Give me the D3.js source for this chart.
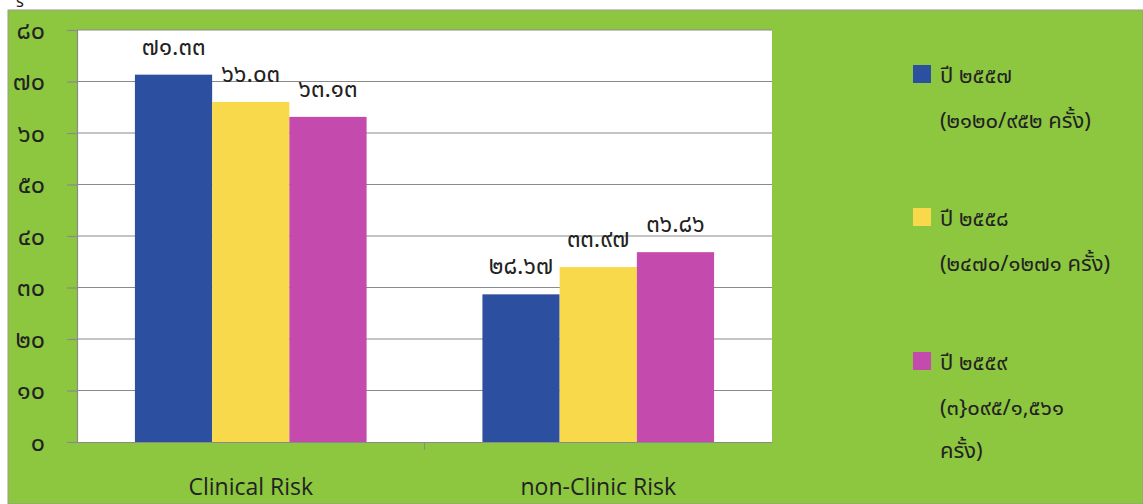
<!DOCTYPE html>
<html>
<head>
<meta charset="utf-8">
<script src="https://cdn.jsdelivr.net/npm/d3@7/dist/d3.min.js"></script>
<style>
  body { margin: 0; background: #fff; }
  text { font-family: "Noto Sans Thai", "Noto Sans", "DejaVu Sans", sans-serif; fill: #222; }
</style>
</head>
<body>
<script>
// chart data
var categories = ["Clinical Risk", "non-Clinic Risk"];
var seriesNames = ["y2557", "y2558", "y2559"];
var values2557 = [71.33, 28.67];
var values2558 = [66.03, 33.97];
var values2559 = [63.13, 36.86];
var yTicks = [0, 10, 20, 30, 40, 50, 60, 70, 80];
var legendLines = [
    ["ปี ๒๕๕๗", "(๒๑๒๐/๙๕๒ ครั้ง)"],
    ["ปี ๒๕๕๘", "(๒๔๗๐/๑๒๗๑ ครั้ง)"],
    ["ปี ๒๕๕๙", "(๓}๐๙๕/๑,๕๖๑", "ครั้ง)"]
];
var colors = ["#2d4f9f", "#f9d94c", "#c44aae"];

var W = 1143, H = 504;
var plot = {left: 77, right: 772, top: 30, bottom: 442};

// arabic -> thai digits
var thaiDigits = "๐๑๒๓๔๕๖๗๘๙";
function toThai(s) {
    return String(s).replace(/[0-9]/g, function(c){ return thaiDigits[+c]; });
}

var svg = d3.select("body").append("svg")
    .attr("width", W)
    .attr("height", H);

// green background
svg.append("rect")
    .attr("x", 8).attr("y", 10)
    .attr("width", W - 8).attr("height", H - 10)
    .attr("fill", "#8dc63f")
    .attr("stroke", "#9a9a8a").attr("stroke-width", 1);

// axis title, shown cut off at the top edge as in the source
svg.append("text")
    .attr("x", 16).attr("y", 7)
    .style("font-size", "16px")
    .text("ร้");

// plot area
svg.append("rect")
    .attr("x", plot.left).attr("y", plot.top)
    .attr("width", plot.right - plot.left)
    .attr("height", plot.bottom - plot.top)
    .attr("fill", "#fff");

var x0 = d3.scaleBand().domain(categories)
    .range([plot.left, plot.right]).paddingInner(0).paddingOuter(0);
var x1 = d3.scaleBand().domain(seriesNames)
    .range([0, x0.bandwidth()]).paddingInner(0).paddingOuter(0.75);
var y = d3.scaleLinear().domain([0, 80]).range([plot.bottom, plot.top]);

// gridlines
svg.append("g")
    .selectAll("line")
    .data(yTicks.filter(function(d){ return d > 0; }))
    .enter().append("line")
    .attr("x1", plot.left).attr("x2", plot.right)
    .attr("y1", function(d){ return y(d); })
    .attr("y2", function(d){ return y(d); })
    .attr("stroke", "#8a8a8a").attr("stroke-width", 1.2);

// y axis
var yAxis = svg.append("g")
    .attr("transform", "translate(" + plot.left + ",0)")
    .call(d3.axisLeft(y).tickValues(yTicks).tickSize(10).tickPadding(22)
        .tickFormat(function(d){ return toThai(d); }));
yAxis.select(".domain").attr("stroke", "#8a8a8a").attr("stroke-width", 1.2);
yAxis.selectAll(".tick line").attr("stroke", "#8a8a8a").attr("stroke-width", 1.2);
yAxis.selectAll(".tick text")
    .style("font-size", "25px").attr("fill", "#222")
    .style("font-family", "\"Noto Sans Thai\", \"Noto Sans\", sans-serif");

// bars
var series = [values2557, values2558, values2559];
var groups = svg.append("g")
    .selectAll("g")
    .data(categories)
    .enter().append("g")
    .attr("transform", function(d){ return "translate(" + x0(d) + ",0)"; });

groups.selectAll("rect")
    .data(function(d, i){
        return series.map(function(s, j){ return {key: seriesNames[j], value: s[i], idx: j}; });
    })
    .enter().append("rect")
    .attr("x", function(d){ return x1(d.key); })
    .attr("width", x1.bandwidth())
    .attr("y", function(d){ return y(d.value); })
    .attr("height", function(d){ return plot.bottom - y(d.value); })
    .attr("fill", function(d){ return colors[d.idx]; });

groups.selectAll("text.val")
    .data(function(d, i){
        return series.map(function(s, j){ return {key: seriesNames[j], value: s[i]}; });
    })
    .enter().append("text")
    .attr("class", "val")
    .attr("x", function(d){ return x1(d.key) + x1.bandwidth() / 2; })
    .attr("y", function(d){ return y(d.value) - 20; })
    .attr("text-anchor", "middle")
    .style("font-size", "24px")
    .text(function(d){ return toThai(d.value.toFixed(2)); });

// x axis
var xAxis = svg.append("g")
    .attr("transform", "translate(0," + plot.bottom + ")")
    .call(d3.axisBottom(x0).tickSize(0));
xAxis.select(".domain").attr("stroke", "#8a8a8a").attr("stroke-width", 1.2);
xAxis.selectAll(".tick text")
    .attr("y", 53).attr("dy", 0)
    .style("font-size", "23px")
    .style("font-family", "\"Open Sans\", Lato, sans-serif")
    .attr("fill", "#222");
// divider tick between categories
svg.append("line")
    .attr("x1", x0(categories[1])).attr("x2", x0(categories[1]))
    .attr("y1", plot.bottom).attr("y2", plot.bottom + 8)
    .attr("stroke", "#8a8a8a");

// legend
var legendY = [83, 226, 370];
var legend = svg.append("g")
    .selectAll("g")
    .data(legendLines)
    .enter().append("g")
    .attr("transform", function(d, i){ return "translate(913," + legendY[i] + ")"; });

legend.append("rect")
    .attr("x", 0).attr("y", -18)
    .attr("width", 18).attr("height", 18)
    .attr("fill", function(d, i){ return colors[i]; });

legend.each(function(lines){
    var g = d3.select(this);
    lines.forEach(function(t, k){
        g.append("text")
            .attr("x", 27)
            .attr("y", k === 0 ? 0 : (k === 1 ? 45 : 88))
            .style("font-size", "22px")
            .text(t);
    });
});
</script>
</body>
</html>
